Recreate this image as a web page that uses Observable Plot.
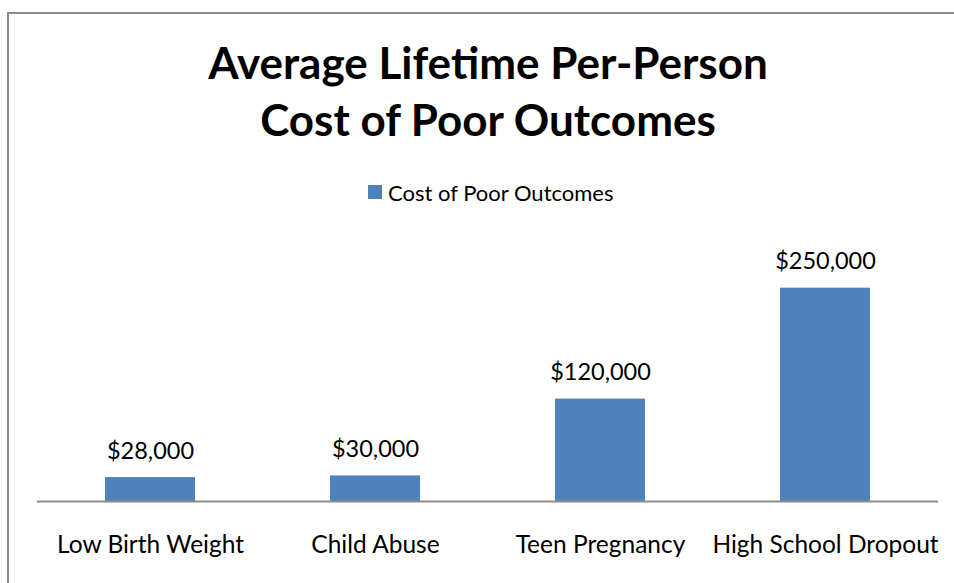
<!DOCTYPE html>
<html>
<head>
<meta charset="utf-8">
<script src="https://cdn.jsdelivr.net/npm/d3@7"></script>
<script src="https://cdn.jsdelivr.net/npm/@observablehq/plot@0.6"></script>
<style>
  html, body { margin: 0; padding: 0; background: #fff; }
  #wrap { position: relative; width: 954px; height: 583px; overflow: hidden; font-family: Lato, "Open Sans", sans-serif; color: #000; }
  #frame { position: absolute; left: 7px; top: 12px; width: 1000px; height: 1000px; border-left: 2px solid #8c8c8c; border-top: 2px solid #8c8c8c; box-sizing: border-box; }
  #title { position: absolute; left: 0; width: 976px; top: 34px; text-align: center; font-weight: 700; font-size: 44px; line-height: 57px; }
  #legend { position: absolute; left: 368px; top: 180px; height: 24px; display: flex; align-items: center; font-size: 22px; white-space: nowrap; }
  #legend .sw { width: 14px; height: 14px; background: #4f81bd; margin-right: 6px; }
  #chart { position: absolute; left: 0; top: 210px; }
</style>
</head>
<body>
<div id="wrap">
  <div id="frame"></div>
  <div id="title">Average Lifetime Per-Person<br>Cost of Poor Outcomes</div>
  <div id="legend"><span class="sw"></span><span>Cost of Poor Outcomes</span></div>
  <div id="chart"></div>
</div>
<script>
const categories = ["Low Birth Weight", "Child Abuse", "Teen Pregnancy", "High School Dropout"];
const costs = [28000, 30000, 120000, 250000];
const valueLabels = ["$28,000", "$30,000", "$120,000", "$250,000"];
const seriesName = "Cost of Poor Outcomes";

const data = categories.map((c, i) => ({category: c, cost: costs[i], label: valueLabels[i]}));

const chart = Plot.plot({
  width: 954,
  height: 373,
  marginLeft: 37,
  marginRight: 16,
  marginTop: 35,
  marginBottom: 82,
  style: {fontFamily: "Lato, 'Open Sans', sans-serif", color: "#000", background: "transparent", overflow: "visible"},
  x: {domain: categories, paddingInner: 0.6, paddingOuter: 0.3, label: null},
  y: {domain: [0, 300000], axis: null},
  marks: [
    Plot.barY(data, {x: "category", y: "cost", fill: "#4f81bd"}),
    Plot.ruleY([0], {stroke: "#8c8c8c", strokeWidth: 2}),
    Plot.text(data, {x: "category", y: "cost", text: "label", dy: -19, lineAnchor: "bottom", fontSize: 23.5, fill: "#000"}),
    Plot.axisX({tickSize: 0, tickPadding: 34, fontSize: 24.5, label: null, fill: "#000"})
  ]
});
document.getElementById("chart").appendChild(chart);
</script>
</body>
</html>
